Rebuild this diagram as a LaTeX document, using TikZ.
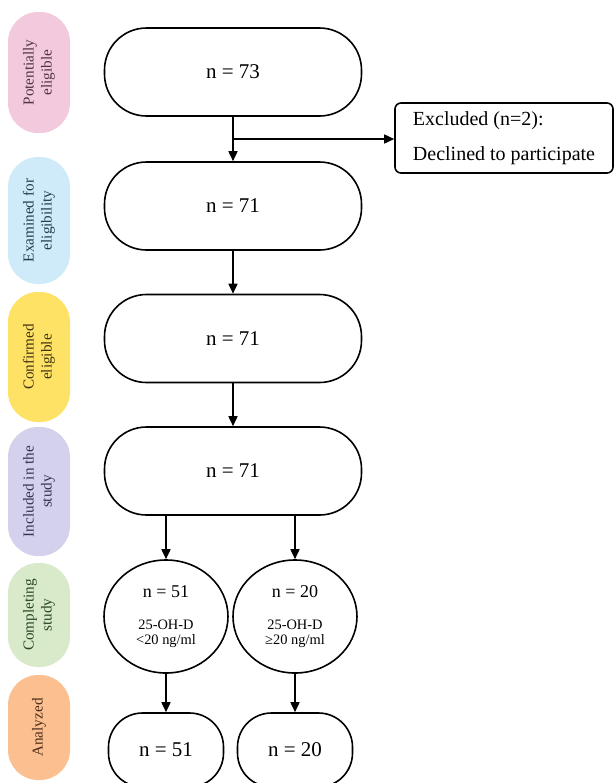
\documentclass[tikz,border=0pt]{standalone}
\usepackage{fontspec}
\setmainfont{Liberation Serif}
\usetikzlibrary{calc,positioning,shapes.geometric,arrows.meta}
\definecolor{pinkfill}{RGB}{243,201,221}
\definecolor{pinktext}{RGB}{80,50,70}
\definecolor{bluefill}{RGB}{207,234,248}
\definecolor{bluetext}{RGB}{35,60,80}
\definecolor{yellowfill}{RGB}{254,226,102}
\definecolor{yellowtext}{RGB}{65,50,15}
\definecolor{purplefill}{RGB}{212,209,236}
\definecolor{purpletext}{RGB}{55,50,80}
\definecolor{greenfill}{RGB}{217,234,202}
\definecolor{greentext}{RGB}{40,70,35}
\definecolor{orangefill}{RGB}{252,191,144}
\definecolor{orangetext}{RGB}{75,45,25}

\begin{document}
\begin{tikzpicture}[x=0.5pt,y=-0.5pt,
	every node/.style={inner sep=0pt},
	flowbox/.style={draw, line width=0.8pt, rounded corners=21pt, minimum width=128.5pt, minimum height=44pt, font=\fontsize{10.5}{12}\selectfont},
	groupcirc/.style={draw, line width=0.8pt, ellipse, minimum width=62pt, minimum height=56.5pt, font=\fontsize{9}{11}\selectfont},
	endbox/.style={draw, line width=0.8pt, rounded corners=17pt, minimum width=57.5pt, minimum height=37pt, font=\fontsize{10.5}{12}\selectfont},
	pill/.style={rotate=90, rounded corners=15pt, minimum height=31pt, align=center, font=\fontsize{7.6}{9}\selectfont},
	arrowline/.style={line width=0.8pt, -{Triangle[length=5pt,width=4.5pt]}}]
			\useasboundingbox (0,0) rectangle (615,783);
			\clip (0,0) rectangle (615,783);
			% stage labels
			\node[pill, fill=pinkfill, text=pinktext, minimum width=60.5pt] (potential) at (39,72.5) {Potentially\\eligible};
			\node[pill, fill=bluefill, text=bluetext, minimum width=63.5pt] (examined) at (39,220.5) {Examined for\\eligibility};
			\node[pill, fill=yellowfill, text=yellowtext, minimum width=65pt] (confirmed) at (39,357) {Confirmed\\eligible};
			\node[pill, fill=purplefill, text=purpletext, minimum width=64.5pt] (included) at (39,491.5) {Included in the\\study};
			\node[pill, fill=greenfill, text=greentext, minimum width=52pt] (completing) at (39,615) {Completing\\study};
			\node[pill, fill=orangefill, text=orangetext, minimum width=52.5pt] (analyzed) at (39,727.5) {Analyzed};
			% flow
			\node[flowbox] (box1) at (233,72) {n = 73};
			\node[flowbox] (box2) at (233,206) {n = 71};
			\node[flowbox] (box3) at (233,338.5) {n = 71};
			\node[flowbox] (box4) at (233,471) {n = 71};
			\node[draw, line width=0.8pt, rounded corners=3pt, minimum width=109pt, minimum height=35pt, align=left, font=\fontsize{10}{12}\selectfont] (excl) at (504,138) {Excluded (n=2):\\[5.5pt]Declined to participate};
			\node[groupcirc] (circ1) at (166,616.5) {\begin{tabular}{@{}c@{}}n = 51\\[5pt]\fontsize{7.2}{8.5}\selectfont 25-OH-D\\[-3.5pt]\fontsize{7.2}{8.5}\selectfont <20 ng/ml\end{tabular}};
			\node[groupcirc] (circ2) at (295,616.5) {\begin{tabular}{@{}c@{}}n = 20\\[5pt]\fontsize{7.2}{8.5}\selectfont 25-OH-D\\[-3.5pt]\fontsize{7.2}{8.5}\selectfont ≥20 ng/ml\end{tabular}};
			\node[endbox] (end1) at (166,750) {n = 51};
			\node[endbox] (end2) at (295,750) {n = 20};
			\coordinate (split) at ($(box1.south)!0.5!(box2.north)$);
			\draw[arrowline] (box1) -- (box2);
			\draw[arrowline] (split) -- (split -| excl.west);
			\draw[arrowline] (box2) -- (box3);
			\draw[arrowline] (box3) -- (box4);
			\draw[arrowline] (box4.south -| circ1.north) -- (circ1);
			\draw[arrowline] (box4.south -| circ2.north) -- (circ2);
			\draw[arrowline] (circ1) -- (end1);
			\draw[arrowline] (circ2) -- (end2);
	\end{tikzpicture}
\end{document}
